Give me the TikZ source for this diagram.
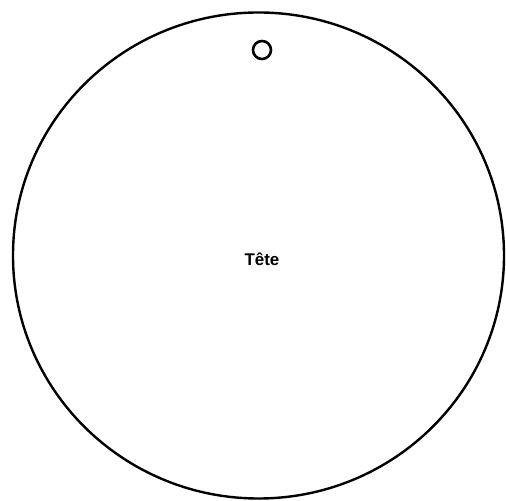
\documentclass[tikz,border=0pt]{standalone}
\usepackage{fontspec}
\setmainfont{Liberation Sans}
\usetikzlibrary{shapes.geometric}
\begin{document}
\begin{tikzpicture}[x=1bp,y=1bp,
  outline/.style={draw=black,line width=2.4bp},
  hole/.style={draw=black,line width=2.6bp},
  lbl/.style={font=\fontsize{17}{20}\selectfont\bfseries}]
\useasboundingbox (0,0) rectangle (506,501);
\node[outline,ellipse,minimum width=491bp,minimum height=486bp,inner sep=0pt] (head) at (258.5,245.5) {};
\node[hole,circle,minimum size=18bp,inner sep=0pt] (ring) at (262,451) {};
\node[lbl] (tete) at (262,242) {Tête};
\end{tikzpicture}
\end{document}
